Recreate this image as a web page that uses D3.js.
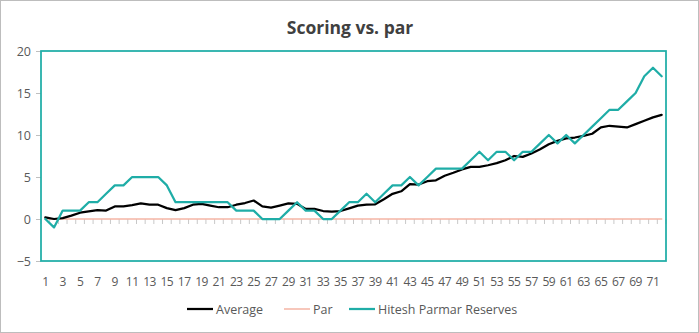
<!DOCTYPE html>
<html>
<head>
<meta charset="utf-8">
<script src="https://cdn.jsdelivr.net/npm/d3@7"></script>
<style>
  html, body { margin: 0; padding: 0; background: #fff; }
  svg { display: block; font-family: "Open Sans", "Noto Sans", sans-serif; }
</style>
</head>
<body>
<svg id="chart" width="699" height="333"></svg>
<script>
// Round numbers 1..72
const rounds = d3.range(1, 73);

// Cumulative score vs. par, field average
const average = [
  0.2, 0.0, 0.1, 0.4, 0.75, 0.9, 1.05, 1.0, 1.5, 1.5,
  1.65, 1.85, 1.7, 1.7, 1.3, 1.05, 1.3, 1.7, 1.8, 1.6,
  1.4, 1.4, 1.7, 1.9, 2.2, 1.5, 1.35, 1.6, 1.85, 1.8,
  1.2, 1.2, 0.95, 0.88, 0.95, 1.27, 1.6, 1.7, 1.75, 2.35,
  3.0, 3.3, 4.15, 4.1, 4.5, 4.6, 5.15, 5.5, 5.9, 6.2,
  6.2, 6.4, 6.65, 7.0, 7.5, 7.4, 7.8, 8.3, 8.9, 9.3,
  9.6, 9.7, 9.9, 10.15, 10.9, 11.1, 11.0, 10.9, 11.3, 11.7,
  12.1, 12.4
];

// Par reference line
const par = rounds.map(() => 0);

// Cumulative score vs. par, Hitesh Parmar Reserves
const hitesh = [
  0, -1, 1, 1, 1, 2, 2, 3, 4, 4,
  5, 5, 5, 5, 4, 2, 2, 2, 2, 2,
  2, 2, 1, 1, 1, 0, 0, 0, 1, 2,
  1, 1, 0, 0, 1, 2, 2, 3, 2, 3,
  4, 4, 5, 4, 5, 6, 6, 6, 6, 7,
  8, 7, 8, 8, 7, 8, 8, 9, 10, 9,
  10, 9, 10, 11, 12, 13, 13, 14, 15, 17,
  18, 17
];

const yTicks = [-5, 0, 5, 10, 15, 20];
const xLabels = rounds.filter(r => r % 2 === 1);

const seriesNames = ["Average", "Par", "Hitesh Parmar Reserves"];
const seriesColors = ["#000000", "#F5B5A5", "#1FADA7"];
const seriesWidths = [2.25, 1.5, 2.25];
const seriesData = [average, par, hitesh];

const svg = d3.select("#chart");
const W = 699, H = 333;
const plot = { left: 41, right: 666, top: 51, bottom: 261 };

// Outer chart frame
svg.append("rect")
  .attr("x", 0.5).attr("y", 0.5)
  .attr("width", W - 1).attr("height", H - 1)
  .attr("fill", "#fff").attr("stroke", "#BDBDBD").attr("stroke-width", 1);

// Title
svg.append("text")
  .attr("x", 350).attr("y", 34)
  .attr("text-anchor", "middle")
  .attr("font-size", 17.5).attr("font-weight", 700)
  .attr("fill", "#404040")
  .text("Scoring vs. par");

const x = d3.scaleBand()
  .domain(rounds)
  .range([plot.left, plot.right]);

const y = d3.scaleLinear()
  .domain([-5, 20])
  .range([plot.bottom, plot.top]);

const cx = d => x(d) + x.bandwidth() / 2;

// Y axis: labels and short ticks on the left
const yAxis = d3.axisLeft(y).tickValues(yTicks).tickSize(5).tickPadding(5);
const gy = svg.append("g").attr("transform", `translate(${plot.left},0)`).call(yAxis);
gy.select(".domain").remove();
gy.selectAll(".tick line").attr("stroke", "#BFBFBF");
gy.selectAll(".tick text").attr("fill", "#595959").attr("font-size", 12.5)
  .attr("font-family", "'Open Sans', sans-serif");

// X axis crosses at zero: tick marks at category boundaries, hanging down
const boundaries = d3.range(0, rounds.length + 1).map(i => plot.left + i * x.bandwidth());
svg.append("g").selectAll("line")
  .data(boundaries)
  .join("line")
  .attr("x1", d => d).attr("x2", d => d)
  .attr("y1", y(0)).attr("y2", y(0) + 5)
  .attr("stroke", "#C8C8C8").attr("stroke-width", 1);

// X category labels below the plot frame (odd rounds)
svg.append("g").selectAll("text")
  .data(xLabels)
  .join("text")
  .attr("x", d => cx(d))
  .attr("y", 286)
  .attr("text-anchor", "middle")
  .attr("font-size", 12)
  .attr("fill", "#595959")
  .attr("letter-spacing", -0.5)
  .text(d => d);

// Series lines
const line = d3.line()
  .x((d, i) => cx(rounds[i]))
  .y(d => y(d));

// Par first (axis-level line), then average, then the team
[1, 0, 2].forEach(k => {
  svg.append("path")
    .datum(seriesData[k])
    .attr("d", line)
    .attr("fill", "none")
    .attr("stroke", seriesColors[k])
    .attr("stroke-width", seriesWidths[k])
    .attr("stroke-linejoin", "round")
    .attr("stroke-linecap", "round");
});

// Plot area frame
svg.append("rect")
  .attr("x", plot.left).attr("y", plot.top)
  .attr("width", plot.right - plot.left).attr("height", plot.bottom - plot.top)
  .attr("fill", "none").attr("stroke", "#1FADA7").attr("stroke-width", 1.75);

// Legend
const legendItems = [
  { name: seriesNames[0], color: seriesColors[0], w: seriesWidths[0], x: 187 },
  { name: seriesNames[1], color: seriesColors[1], w: seriesWidths[1], x: 284 },
  { name: seriesNames[2], color: seriesColors[2], w: seriesWidths[2], x: 349 }
];
const lg = svg.append("g");
legendItems.forEach(it => {
  lg.append("line")
    .attr("x1", it.x).attr("x2", it.x + 26)
    .attr("y1", 309).attr("y2", 309)
    .attr("stroke", it.color).attr("stroke-width", it.w);
  lg.append("text")
    .attr("x", it.x + 29).attr("y", 313.5)
    .attr("font-size", 12.5).attr("fill", "#595959")
    .text(it.name);
});
</script>
</body>
</html>
